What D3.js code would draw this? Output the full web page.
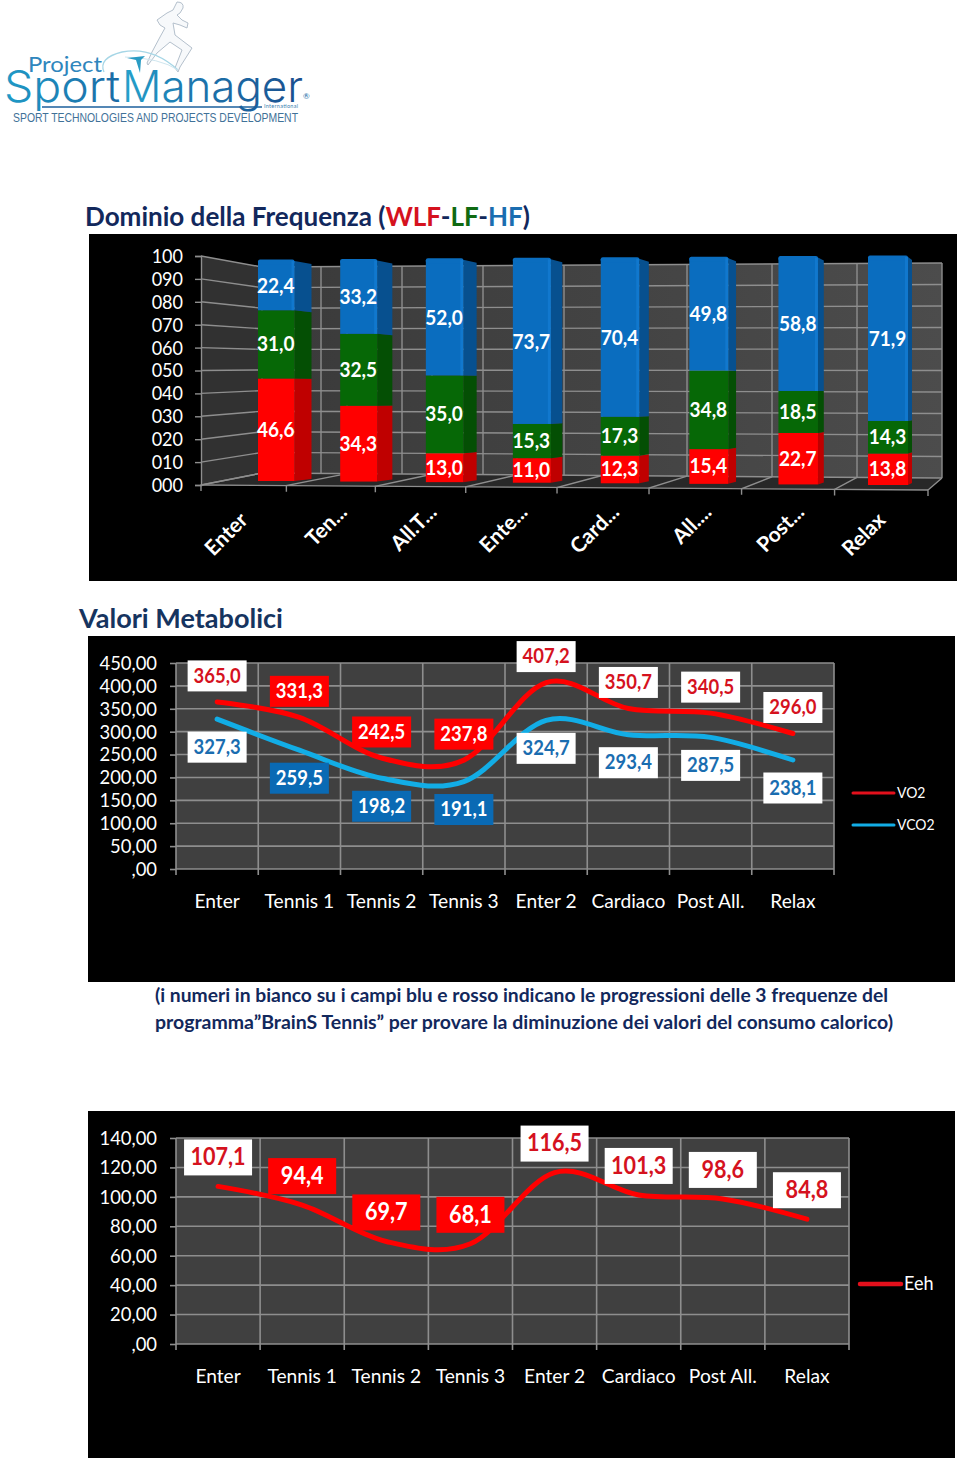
<!DOCTYPE html>
<html><head><meta charset="utf-8">
<style>html,body{margin:0;padding:0;background:#fff}svg{display:block}text{font-family:Lato,sans-serif}</style>
<script src="https://cdn.jsdelivr.net/npm/d3@7/dist/d3.min.js"></script></head>
<body><svg id="c" width="960" height="1461"></svg>
<script>
// ---- data ----
const freqLabels=["Enter","Ten...","All.T...","Ente...","Card...","All....","Post...","Relax"];
const wlf=[46.6,34.3,13.0,11.0,12.3,15.4,22.7,13.8];
const lf=[31.0,32.5,35.0,15.3,17.3,34.8,18.5,14.3];
const hf=[22.4,33.2,52.0,73.7,70.4,49.8,58.8,71.9];
const metaLabels=["Enter","Tennis 1","Tennis 2","Tennis 3","Enter 2","Cardiaco","Post All.","Relax"];
const vo2=[365.0,331.3,242.5,237.8,407.2,350.7,340.5,296.0];
const vco2=[327.3,259.5,198.2,191.1,324.7,293.4,287.5,238.1];
const eeh=[107.1,94.4,69.7,68.1,116.5,101.3,98.6,84.8];
const freqTicks=d3.range(0,101,10);
const vTicks=d3.range(0,451,50);
const eTicks=d3.range(0,141,20);
const highlighted=[1,2,3];

const svg=d3.select("#c");
const GRID="#8e8e8e",RED="#ff0000",REDTXT="#d5121e",BLUE="#0a6ab4",BLUETXT="#1a6db0",CYAN="#12ade6",NAVY="#12285c";
// Lato is wider than the Calibri look of the reference: compress each text horizontally
function squeeze(sel,k=0.9){sel.each(function(){const n=this.getComputedTextLength();
  d3.select(this).attr("textLength",n*k).attr("lengthAdjust","spacingAndGlyphs");});return sel;}
const fmt2=d=>d===0?",00":d.toFixed(2).replace(".",",");
const fmt1=d=>d.toFixed(1).replace(".",",");

// ---- logo ----
const logo=svg.append("g");
const defs=svg.append("defs");
const lg=defs.append("linearGradient").attr("id","lg");
lg.append("stop").attr("offset","0").attr("stop-color","#1f9ac6");
lg.append("stop").attr("offset","1").attr("stop-color","#1a6aa5");
const lm=defs.append("linearGradient").attr("id","lm");
lm.append("stop").attr("offset","0").attr("stop-color","#25a3cc");
lm.append("stop").attr("offset","0.35").attr("stop-color","#1c79b0");
lm.append("stop").attr("offset","1").attr("stop-color","#1a4f8e");
logo.append("path").attr("fill","#f7f9fb").attr("stroke","#b4c0cc").attr("stroke-width",1).attr("stroke-linejoin","round").attr("d",
 "M177,2Q184,2 183,8L180,13L177,15L182,20L188,23L187,28L180,25L173,23L175,35L192,48L180,67L178,72L175,68L182,50L170,42L157,53L148,65L147,63L152,52L160,37L165,28L160,25L157,20L167,13L173,10Z");
logo.append("path").attr("fill","none").attr("stroke","#a6d6e6").attr("stroke-width",1.3).attr("d","M178,70Q152,46 122,52Q98,58 104,72");
logo.append("path").attr("fill","none").attr("stroke","#cfe6ef").attr("stroke-width",1).attr("d","M125,57Q160,58 178,70");
logo.append("path").attr("fill","#2a9cc4").attr("d","M127,58L145,56L141,60L140,73L136,60Z");
logo.append("text").attr("x",28).attr("y",72).attr("font-size",21).attr("fill","#2f86bd").attr("textLength",74).attr("lengthAdjust","spacingAndGlyphs").text("Project");
logo.append("text").attr("x",4).attr("y",102).attr("font-size",44).attr("font-weight",300).attr("fill","url(#lg)").style("font-family","Inter").attr("textLength",116).attr("lengthAdjust","spacingAndGlyphs").text("Sport");
logo.append("text").attr("x",122).attr("y",102).attr("font-size",44).attr("font-weight",300).attr("fill","url(#lm)").style("font-family","Inter").attr("textLength",181).attr("lengthAdjust","spacingAndGlyphs").text("Manager");
logo.append("path").attr("fill","none").attr("stroke","#1b5f9c").attr("stroke-width",1.5).attr("d","M42,107H262");
logo.append("text").attr("x",264).attr("y",108).attr("font-size",5.5).attr("fill","#3b7fb0").attr("textLength",34).text("International");
logo.append("text").attr("x",303).attr("y",99).attr("font-size",8).attr("fill","#1b6da8").text("®");
logo.append("text").attr("x",13).attr("y",122).attr("font-size",13.5).attr("fill","#3f7198").style("font-family","Liberation Sans").attr("textLength",285).attr("lengthAdjust","spacingAndGlyphs").text("SPORT TECHNOLOGIES AND PROJECTS DEVELOPMENT");

// ---- headings ----
const t1=svg.append("text").attr("x",85).attr("y",226).attr("font-size",27).attr("font-weight",700).attr("fill",NAVY);
[["Dominio della Frequenza (",NAVY],["WLF",REDTXT],["-",NAVY],["LF","#0f6a12"],["-",NAVY],["HF",BLUETXT],[")",NAVY]]
 .forEach(([s,c])=>t1.append("tspan").attr("fill",c).text(s));
t1.attr("textLength",445).attr("lengthAdjust","spacingAndGlyphs");
svg.append("text").attr("x",79).attr("y",628).attr("font-size",27).attr("font-weight",700).attr("fill","#16345f").attr("textLength",204).attr("lengthAdjust","spacingAndGlyphs").text("Valori Metabolici");
svg.append("text").attr("x",155).attr("y",1002).attr("font-size",19.5).attr("font-weight",700).attr("fill",NAVY).attr("textLength",733).attr("lengthAdjust","spacingAndGlyphs").text("(i numeri in bianco su i campi blu e rosso indicano le progressioni delle 3 frequenze del");
svg.append("text").attr("x",155).attr("y",1029).attr("font-size",19.5).attr("font-weight",700).attr("fill",NAVY).attr("textLength",738).attr("lengthAdjust","spacingAndGlyphs").text("programma”BrainS Tennis” per provare la diminuzione dei valori del consumo calorico)");

// ---- chart 1: 3D stacked bars ----
svg.append("rect").attr("x",89).attr("y",234).attr("width",868).attr("height",347).attr("fill","#000");
const g1=svg.append("g");
const n=freqLabels.length, idx=d3.scaleLinear().domain([0,n-1]);
const yFront=d3.scaleLinear().domain([0,100]).range([485,256]);
const yBackL=d3.scaleLinear().domain([0,100]).range([473,267]);
const yBackR=d3.scaleLinear().domain([0,100]).range([478,263]);
const frontTick=d3.scalePow().exponent(1.03).domain([0,n]).range([201,928]);
const backLine=d3.scaleLinear().domain([0,n]).range([262,942]);
const wallExtra=d3.scaleLinear().domain([0,3]).range([321,564]);
const barX=d3.scalePow().exponent(1.03).domain([0,n-1]).range([258,868]);
const barW=idx.copy().range([36.5,40]);
const sideW=idx.copy().range([17,4]);
const barBase=idx.copy().range([481,485]);
const barTop=idx.copy().range([261,257]);
const wallGrad=defs.append("linearGradient").attr("id","wall");
wallGrad.append("stop").attr("offset","0").attr("stop-color","#3a3a3a");
wallGrad.append("stop").attr("offset","1").attr("stop-color","#4c4c4c");
const L=backLine(0),R=backLine(n),fL=frontTick(0),fR=frontTick(n);
g1.append("path").attr("fill","#313131").attr("d",`M${fL},${yFront(100)}L${L},${yBackL(100)}L${L},${yBackL(0)}L${fL},${yFront(0)}Z`);
g1.append("path").attr("fill","url(#wall)").attr("d",`M${L},${yBackL(100)}L${R},${yBackR(100)}L${R},${yBackR(0)}L${L},${yBackL(0)}Z`);
g1.append("path").attr("fill","#282828").attr("d",`M${fL},${yFront(0)}L${L},${yBackL(0)}L${R},${yBackR(0)}L${fR},${yFront(0)+5}Z`);
const grid1=g1.append("g").attr("stroke",GRID).attr("fill","none").attr("stroke-width",1.4);
grid1.selectAll(".h").data(freqTicks).join("path").attr("d",v=>`M${fL},${yFront(v)}L${L},${yBackL(v)}L${R},${yBackR(v)}`);
const grid1v=g1.append("g").attr("stroke",GRID).attr("stroke-width",1.4);
const vAt=x=>{const t=(x-L)/(R-L);return [yBackL(100)+t*(yBackR(100)-yBackL(100)),yBackL(0)+t*(yBackR(0)-yBackL(0))];};
grid1v.selectAll(".a").data(d3.range(n+1)).join("line").attr("x1",backLine).attr("x2",backLine).attr("y1",i=>vAt(backLine(i))[0]).attr("y2",i=>vAt(backLine(i))[1]);
grid1v.selectAll(".b").data(d3.range(4)).join("line").attr("x1",wallExtra).attr("x2",wallExtra).attr("y1",i=>vAt(wallExtra(i))[0]).attr("y2",i=>vAt(wallExtra(i))[1]);
// floor lines and front edge
const floorG=g1.append("g").attr("stroke",GRID).attr("stroke-width",1.4).attr("fill","none");
const frontY=i=>yFront(0)+5*i/n;
floorG.selectAll("path").data(d3.range(n+1)).join("path").attr("d",i=>`M${backLine(i)},${vAt(backLine(i))[1]}L${frontTick(i)},${frontY(i)}L${frontTick(i)},${frontY(i)+6}`);
floorG.append("line").attr("x1",fL).attr("x2",fR).attr("y1",frontY(0)).attr("y2",frontY(n));
// y axis
const ax1=g1.append("g").attr("transform",`translate(${fL},0)`).call(d3.axisLeft(yFront).tickValues(freqTicks).tickFormat(d3.format("03d")).tickSize(6).tickPadding(12));
ax1.select(".domain").attr("stroke",GRID).attr("stroke-width",1.4);
ax1.selectAll("line").attr("stroke",GRID).attr("stroke-width",1.4);
ax1.selectAll("text").attr("fill","#fff").attr("font-size",20).style("font-family","Lato").call(squeeze,0.9);
// stacked bars
const rows=freqLabels.map((c,i)=>({c,i,wlf:wlf[i],lf:lf[i],hf:hf[i]}));
const stacked=d3.stack().keys(["wlf","lf","hf"])(rows);
const faces={wlf:[RED,"#bf0000"],lf:["#066806","#044f04"],hf:["#0a6dbf","#07508f"]};
stacked.forEach(layer=>{
  const gl=g1.append("g");
  layer.forEach((d,i)=>{
    const x=barX(i),w=barW(i),s=sideW(i),b=barBase(i),t=barTop(i);
    const y=v=>b-(b-t)*v/100, ys=v=>y(v)+(-2+5*v/100);
    gl.append("path").attr("fill",faces[layer.key][1]).attr("d",`M${x+w},${y(d[1])}L${x+w+s},${ys(d[1])}L${x+w+s},${ys(d[0])}L${x+w},${y(d[0])}Z`);
    gl.append("rect").attr("x",x).attr("y",y(d[1])).attr("width",w).attr("height",y(d[0])-y(d[1])).attr("fill",faces[layer.key][0]);
    if(layer.key==="hf"){
      gl.append("rect").attr("x",x).attr("y",y(d[1])-1.5).attr("width",w).attr("height",5).attr("rx",2).attr("fill",faces.hf[0]);
      gl.append("rect").attr("x",x+w-3).attr("y",y(d[1])).attr("width",3).attr("height",y(d[0])-y(d[1])).attr("fill","#1680d8").attr("opacity",.6);
    }
    gl.append("text").attr("x",x+w/2-0.5).attr("y",(y(d[0])+y(d[1]))/2+7).attr("text-anchor","middle").attr("font-size",20.5).attr("font-weight",700).attr("fill","#fff").text(fmt1(d.data[layer.key])).call(squeeze,0.93);
  });
});
// rotated category labels
const tickMid=i=>(frontTick(i)+frontTick(i+1))/2;
g1.selectAll(".cat").data(freqLabels).join("text").attr("class","cat")
 .attr("text-anchor","end").attr("font-size",21).attr("font-weight",700).attr("fill","#fff")
 .attr("transform",(d,i)=>{const full=!d.endsWith(".");return `translate(${tickMid(i)+(full?-5:7)},${full?511:503}) rotate(-45)`;})
 .attr("dy","0.7em").text(d=>d).call(squeeze,1);

// ---- line charts ----
function lineChart(o){
  svg.append("rect").attr("x",88).attr("y",o.py).attr("width",867).attr("height",o.ph).attr("fill","#000");
  const g=svg.append("g");
  const y=d3.scaleLinear().domain(o.domain).range([o.bottom,o.top]);
  const x=d3.scaleBand().domain(metaLabels).range([o.left,o.right]);
  g.append("rect").attr("x",o.left).attr("y",o.top).attr("width",o.right-o.left).attr("height",o.bottom-o.top).attr("fill","#404040");
  const ax=g.append("g").attr("transform",`translate(${o.left},0)`).call(d3.axisLeft(y).tickValues(o.ticks).tickFormat(fmt2).tickSize(6).tickPadding(13));
  ax.select(".domain").remove();
  ax.selectAll("line").attr("stroke",GRID).attr("stroke-width",1.6);
  ax.selectAll("text").attr("fill","#fff").attr("font-size",20).style("font-family","Lato").call(squeeze,0.92);
  g.append("g").selectAll("line").data(o.ticks).join("line").attr("x1",o.left).attr("x2",o.right).attr("y1",y).attr("y2",y).attr("stroke",GRID).attr("stroke-width",1.6);
  const edges=metaLabels.map(c=>x(c)).concat(o.right);
  g.append("g").selectAll("line").data(edges).join("line").attr("x1",d=>d).attr("x2",d=>d).attr("y1",o.top).attr("y2",o.bottom+6).attr("stroke",GRID).attr("stroke-width",1.6);
  const bx=g.append("g").attr("transform",`translate(0,${o.bottom})`).call(d3.axisBottom(x).tickSize(0).tickPadding(o.catPad));
  bx.select(".domain").remove();
  bx.selectAll("text").attr("fill","#fff").attr("font-size",20).style("font-family","Lato").call(squeeze,0.96);
  const line=d3.line().x((d,i)=>x(metaLabels[i])+x.bandwidth()/2).y(d=>y(d)).curve(d3.curveCatmullRom.alpha(0));
  o.series.forEach(s=>g.append("path").attr("d",line(s.values)).attr("fill","none").attr("stroke",s.color).attr("stroke-width",5).attr("stroke-linecap","round"));
  o.series.forEach(s=>{
    s.values.forEach((v,i)=>{
      const hl=highlighted.includes(i),cx=x(metaLabels[i])+x.bandwidth()/2,cy=y(v)+s.offset;
      g.append("rect").attr("x",cx-o.lw/2).attr("y",cy-o.lh/2).attr("width",o.lw).attr("height",o.lh).attr("fill",hl?s.fill:"#fff");
      g.append("text").attr("x",cx).attr("y",cy+o.fs*0.33).attr("text-anchor","middle").attr("font-size",o.fs).attr("font-weight",700).attr("fill",hl?"#fff":s.textColor).text(fmt1(v)).call(squeeze,0.9);
    });
  });
  o.series.forEach(s=>{
    g.append("line").attr("x1",o.legX).attr("x2",o.legX+41).attr("y1",s.legY).attr("y2",s.legY).attr("stroke",s.legColor||s.color).attr("stroke-width",o.legW).attr("stroke-linecap","round");
    g.append("text").attr("x",o.legX+44).attr("y",s.legY+o.legFs*0.33).attr("font-size",o.legFs).attr("fill","#fff").text(s.name).call(squeeze,o.legK);
  });
}
lineChart({py:636,ph:346,left:176,right:834,top:663,bottom:869,domain:[0,450],ticks:vTicks,catPad:25,lw:59,lh:31,fs:20.5,legX:853,legW:3,legFs:15.5,legK:0.9,
 series:[{name:"VO2",values:vo2,color:RED,legColor:"#e3101c",fill:RED,textColor:REDTXT,offset:-26,legY:793},
         {name:"VCO2",values:vco2,color:CYAN,fill:BLUE,textColor:BLUETXT,offset:28,legY:825}]});
lineChart({py:1111,ph:347,left:176,right:849,top:1138,bottom:1344,domain:[0,140],ticks:eTicks,catPad:25,lw:68,lh:36,fs:24,legX:860,legW:4.5,legFs:19,legK:0.95,
 series:[{name:"Eeh",values:eeh,color:RED,legColor:"#e3101c",fill:RED,textColor:REDTXT,offset:-29,legY:1284}]});
</script></body></html>
